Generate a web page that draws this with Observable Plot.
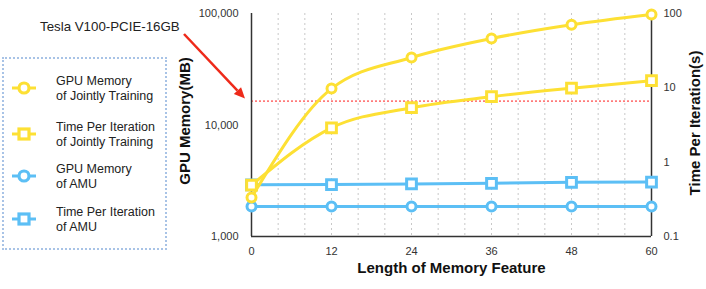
<!DOCTYPE html>
<html>
<head>
<meta charset="utf-8">
<script src="https://cdn.jsdelivr.net/npm/d3@7"></script>
<script src="https://cdn.jsdelivr.net/npm/@observablehq/plot@0.6"></script>
<style>
  html, body { margin: 0; padding: 0; background: #fff; }
  #wrap { position: relative; width: 706px; height: 289px; font-family: "Liberation Sans", Arial, sans-serif; }
  #legend { position: absolute; left: 2px; top: 57px; width: 161px; height: 189px; border: 2px dotted #a8c3e6; }
  #legend .item { position: absolute; left: 0; width: 160px; height: 32px; }
  #legend svg { position: absolute; left: 6px; top: 4px; }
  #legend .lbl { position: absolute; left: 52px; top: 0; font-size: 12.5px; line-height: 14.5px; color: #222; }
</style>
</head>
<body>
<div id="wrap"></div>
<script>
// ---- data ----
const lengths = [0, 12, 24, 36, 48, 60];
const gpuJoint = [2240, 21200, 40300, 59700, 79300, 98000];   // MB
const timeJoint = [0.49, 2.9, 5.4, 7.6, 9.9, 12.5];           // s
const gpuAMU = [1860, 1860, 1860, 1860, 1860, 1860];          // MB
const timeAMU = [0.495, 0.50, 0.51, 0.52, 0.535, 0.54];       // s
const gpuLimit = 16384;                                        // MB (16GB)
const leftTicks = [1000, 10000, 100000];
const rightTicks = [0.1, 1, 10, 100];
const rightTickLabels = ["0.1", "1", "10", "100"];
const xTicks = [0, 12, 24, 36, 48, 60];
const gridX = d3.range(4, 60, 4);
const seriesNames = ["GPU Memory\nof Jointly Training", "Time Per Iteration\nof Jointly Training", "GPU Memory\nof AMU", "Time Per Iteration\nof AMU"];

const YELLOW = "#fde034";
const BLUE = "#5cbff5";

// map right-axis (seconds, 0.1..100) onto left-axis (MB, 1e3..1e5) log scale
const toLeft = t => Math.pow(10, 3 + (Math.log10(t) + 1) * 2 / 3);
const rightLabel = new Map(rightTicks.map((t, i) => [toLeft(t), rightTickLabels[i]]));

const rows = (ys, conv = d => d) => lengths.map((x, i) => ({x, y: conv(ys[i])}));
const gJ = rows(gpuJoint), tJ = rows(timeJoint, toLeft), gA = rows(gpuAMU), tA = rows(timeAMU, toLeft);

const plot = Plot.plot({
  width: 706, height: 289,
  marginLeft: 251, marginRight: 55, marginTop: 13, marginBottom: 53,
  style: {fontFamily: "'Liberation Sans', Arial, sans-serif", fontSize: "11px", color: "#333", background: "transparent"},
  x: {domain: [0, 60], axis: null},
  y: {type: "log", domain: [1000, 100000], axis: null},
  marks: [
    Plot.ruleX(gridX, {stroke: "#c8c8c8", strokeDasharray: "2,3", strokeWidth: 1}),
    Plot.ruleY([gpuLimit], {stroke: "#ff1a1a", strokeDasharray: "2,2", strokeWidth: 1}),
    Plot.axisX({ticks: xTicks, tickSize: 0, tickPadding: 11, tickFormat: d => String(d), label: null, fill: "#333"}),
    Plot.axisY({ticks: leftTicks, tickSize: 0, tickPadding: 13, tickFormat: d3.format(","), label: null, fill: "#333"}),
    Plot.axisY({anchor: "right", ticks: rightTicks.map(toLeft), tickSize: 0, tickPadding: 12,
      tickFormat: d => rightLabel.get(d) ?? "", label: null, fill: "#333"}),
    Plot.ruleX([0, 60], {stroke: "#333", strokeWidth: 1.5}),
    Plot.ruleY([1000], {stroke: "#333", strokeWidth: 1.5}),
    // AMU series
    Plot.line(gA, {x: "x", y: "y", stroke: BLUE, strokeWidth: 3}),
    Plot.line(tA, {x: "x", y: "y", stroke: BLUE, strokeWidth: 3}),
    Plot.dot(gA, {x: "x", y: "y", symbol: "circle", r: 4.5, stroke: BLUE, strokeWidth: 3, fill: "white"}),
    Plot.dot(tA, {x: "x", y: "y", symbol: "square", r: 5.5, stroke: BLUE, strokeWidth: 3, fill: "white"}),
    // Jointly training series
    Plot.line(gJ, {x: "x", y: "y", stroke: YELLOW, strokeWidth: 3, curve: "monotone-x"}),
    Plot.line(tJ, {x: "x", y: "y", stroke: YELLOW, strokeWidth: 3, curve: "monotone-x"}),
    Plot.dot(gJ, {x: "x", y: "y", symbol: "circle", r: 4.5, stroke: YELLOW, strokeWidth: 3, fill: "white"}),
    Plot.dot(tJ, {x: "x", y: "y", symbol: "square", r: 5.5, stroke: YELLOW, strokeWidth: 3, fill: "white"}),
    // axis titles
    Plot.text(["GPU Memory(MB)"], {frameAnchor: "left", dx: -66, dy: -4, rotate: -90, textAnchor: "middle", fontWeight: "bold", fontSize: 15, fill: "#111"}),
    Plot.text(["Time Per Iteration(s)"], {frameAnchor: "right", dx: 44, dy: -2, rotate: -90, textAnchor: "middle", fontWeight: "bold", fontSize: 15, fill: "#111"}),
    Plot.text(["Length of Memory Feature"], {frameAnchor: "bottom", dy: 36, textAnchor: "middle", fontWeight: "bold", fontSize: 15, fill: "#111"})
  ]
});

const wrap = document.getElementById("wrap");
wrap.appendChild(plot);

// annotation: GPU name + arrow pointing to the memory limit line
const sx = plot.scale("x"), sy = plot.scale("y");
const svg = d3.select(plot);
svg.append("text").attr("x", 40).attr("y", 31).attr("text-anchor", "start")
  .attr("font-size", 13.3).attr("fill", "#222").attr("font-family", "'Liberation Sans', Arial, sans-serif")
  .text("Tesla V100-PCIE-16GB");
const tipX = sx.apply(0) - 6, tipY = sy.apply(gpuLimit) - 2;
const tailX = 184, tailY = 34;
const ang = Math.atan2(tipY - tailY, tipX - tailX);
const hl = 11, hw = 5;
const bx = tipX - hl * Math.cos(ang), by = tipY - hl * Math.sin(ang);
svg.append("line").attr("x1", tailX).attr("y1", tailY).attr("x2", bx).attr("y2", by)
  .attr("stroke", "#ee2a1a").attr("stroke-width", 2.5);
svg.append("path")
  .attr("d", `M${tipX},${tipY}L${bx + hw * Math.sin(ang)},${by - hw * Math.cos(ang)}L${bx - hw * Math.sin(ang)},${by + hw * Math.cos(ang)}Z`)
  .attr("fill", "#ee2a1a");

// legend
const legend = document.createElement("div");
legend.id = "legend";
wrap.appendChild(legend);
const legendDefs = [
  {color: YELLOW, sym: "circle"}, {color: YELLOW, sym: "square"},
  {color: BLUE, sym: "circle"}, {color: BLUE, sym: "square"}
];
const tops = [15, 61, 103, 146];
legendDefs.forEach((d, i) => {
  const item = document.createElement("div");
  item.className = "item";
  item.style.top = tops[i] + "px";
  const s = d3.create("svg").attr("width", 28).attr("height", 20);
  s.append("line").attr("x1", 2).attr("x2", 26).attr("y1", 10).attr("y2", 10).attr("stroke", d.color).attr("stroke-width", 3);
  if (d.sym === "circle") s.append("circle").attr("cx", 14).attr("cy", 10).attr("r", 5).attr("fill", "white").attr("stroke", d.color).attr("stroke-width", 3.2);
  else s.append("rect").attr("x", 9).attr("y", 5).attr("width", 10).attr("height", 10).attr("fill", "white").attr("stroke", d.color).attr("stroke-width", 3.2);
  item.appendChild(s.node());
  const lbl = document.createElement("div");
  lbl.className = "lbl";
  lbl.innerHTML = seriesNames[i].split("\n").join("<br>");
  item.appendChild(lbl);
  legend.appendChild(item);
});
</script>
</body>
</html>
